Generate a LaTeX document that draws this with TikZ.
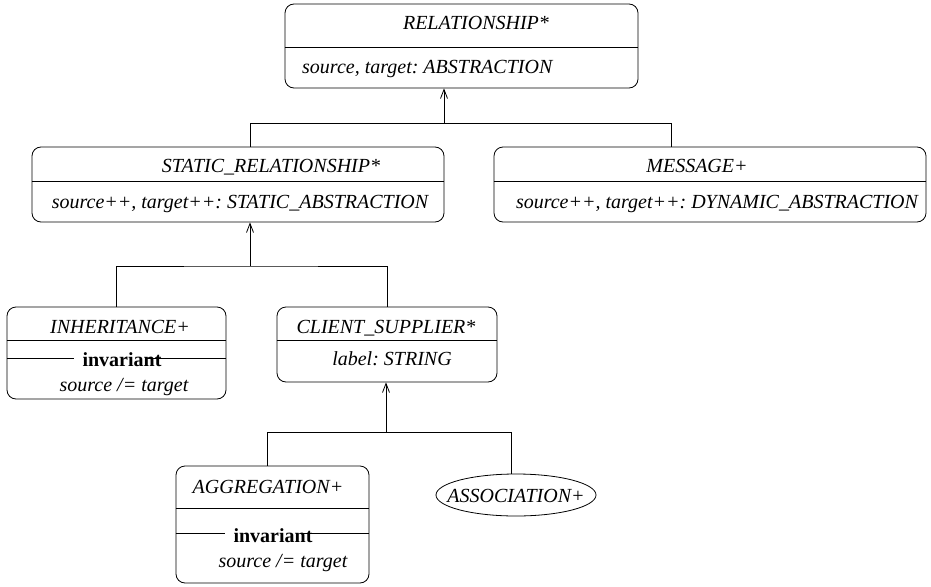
\documentclass[tikz,border=0pt]{standalone}
\usepackage{fontspec}
\setmainfont{Liberation Serif}
\frenchspacing
\usetikzlibrary{arrows.meta,shapes.geometric}
\begin{document}
\begin{tikzpicture}[x=1pt,y=-1pt,
  box/.style={draw,rounded corners=9pt,inner sep=0pt,line width=0.8pt},
  txt/.style={anchor=base,inner sep=0pt,font=\fontsize{20}{22}\selectfont\itshape},
  btxt/.style={anchor=base,inner sep=0pt,font=\fontsize{20}{22}\selectfont\bfseries},
  ln/.style={line width=0.8pt},
  inh/.style={line width=0.8pt,-{Straight Barb[length=9pt,width=7pt,line width=0.8pt]}}]
\useasboundingbox (0,0) rectangle (931,586);
% boxes
\node[box,minimum width=353pt,minimum height=84pt] (rel) at (461.5,46) {};
\node[box,minimum width=412pt,minimum height=75pt] (stat) at (238,184.5) {};
\node[box,minimum width=432pt,minimum height=75pt] (msg) at (710,184.5) {};
\node[box,minimum width=219pt,minimum height=92pt] (inhb) at (116.5,353) {};
\node[box,minimum width=220pt,minimum height=75pt] (cs) at (387,344.5) {};
\node[box,minimum width=193pt,minimum height=117pt] (agg) at (272.5,524.5) {};
\node[draw,ellipse,line width=0.8pt,minimum width=160pt,minimum height=42pt,inner sep=0pt] (assoc) at (516,495) {};
% dividers
\draw[ln] (rel.west |- 0,47) -- (rel.east |- 0,47);
\draw[ln] (stat.west |- 0,181) -- (stat.east |- 0,181);
\draw[ln] (msg.west |- 0,181) -- (msg.east |- 0,181);
\draw[ln] (inhb.west |- 0,340) -- (inhb.east |- 0,340);
\draw[ln] (cs.west |- 0,340) -- (cs.east |- 0,340);
\draw[ln] (agg.west |- 0,508) -- (agg.east |- 0,508);
% texts
\node[txt] (relT) at (476,30) {RELATIONSHIP*};
\node[txt,anchor=base west] (relA) at (302,74) {source, target: ABSTRACTION};
\node[txt] (statT) at (271,172) {STATIC\_RELATIONSHIP*};
\node[txt] (statA) at (240,208) {source++, target++: STATIC\_ABSTRACTION};
\node[txt] (msgT) at (697,172) {MESSAGE+};
\node[txt] (msgA) at (717,208) {source++, target++: DYNAMIC\_ABSTRACTION};
\node[txt] (inhT) at (120,333) {INHERITANCE+};
\node[btxt] (inhI) at (122,366) {invariant};
\node[txt] (inhS) at (124,391) {source /= target};
\node[txt] (csT) at (386,333) {CLIENT\_SUPPLIER*};
\node[txt] (csA) at (392,365) {label: STRING};
\node[txt] (aggT) at (268,493) {AGGREGATION+};
\node[btxt] (aggI) at (273,542) {invariant};
\node[txt] (aggS) at (283,567) {source /= target};
\node[txt] (assocT) at (516,502) {ASSOCIATION+};
% invariant lines
\draw[ln] (inhb.west |- 0,358) -- (74,358);
\draw[ln] (147,358) -- (inhb.east |- 0,358);
\draw[ln] (agg.west |- 0,533) -- (225,533);
\draw[ln] (300,533) -- (agg.east |- 0,533);
% connectors
\coordinate (j1) at (444,123);
\coordinate (j1l) at (250,123);
\coordinate (j1r) at (671,123);
\draw[inh] (j1) -- (j1 |- rel.south);
\draw[ln] (stat.north -| j1l) -- (j1l) -- (j1r) -- (msg.north -| j1r);
\coordinate (j2) at (250,266);
\draw[inh] (j2) -- (j2 |- stat.south);
\draw[ln] (inhb.north) |- (j2) -| (cs.north);
\coordinate (j3) at (386,432);
\coordinate (j3l) at (267,432);
\coordinate (j3r) at (511,432);
\draw[inh] (j3) -- (j3 |- cs.south);
\draw[ln] (agg.north -| j3l) -- (j3l) -- (j3r) -- (j3r |- 0,474);
\end{tikzpicture}
\end{document}
